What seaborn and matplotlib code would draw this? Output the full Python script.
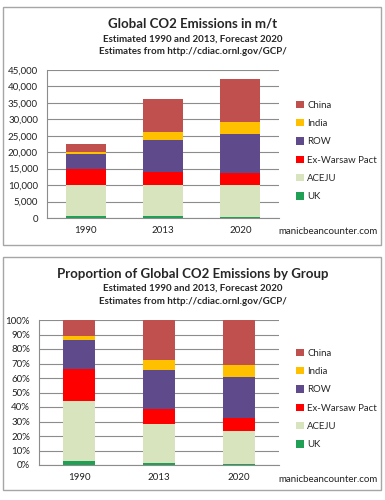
import numpy as np
import pandas as pd
import matplotlib
matplotlib.use("Agg")
import matplotlib.pyplot as plt
from matplotlib.patches import Rectangle
from matplotlib.ticker import FuncFormatter, PercentFormatter
import seaborn as sns

# Data (million tonnes CO2)
years = ["1990", "2013", "2020"]
groups = ["China", "India", "ROW", "Ex-Warsaw Pact", "ACEJU", "UK"]
china = [2500, 10000, 13000]
india = [650, 2500, 3500]
row = [4400, 9800, 12000]
ex_warsaw = [5100, 3700, 3700]
aceju = [9300, 9700, 9500]
uk = [590, 480, 420]

colors = ["#C0504D", "#FFC000", "#5F4A8B", "#FF0000", "#D7E4BD", "#1FA055"]

values = [china, india, row, ex_warsaw, aceju, uk]
df = pd.DataFrame([
    {"pos": i, "group": g, "value": v[i]}
    for g, v in zip(groups, values)
    for i in range(len(years))
])

sns.set_style("white")
plt.rcParams["font.family"] = ["Lato", "DejaVu Sans"]

fig = plt.figure(figsize=(3.85, 5), dpi=100)

# panel borders
for y0, h in [(1 - 245 / 500, 238 / 500), (10 / 500, 233 / 500)]:
    fig.patches.append(Rectangle((3 / 385, y0), 378 / 385, h, transform=fig.transFigure,
                                 fill=False, edgecolor="#A6A6A6", linewidth=1))

ax1 = fig.add_axes([47 / 385, 1 - 218 / 500, 232 / 385, 148 / 500])
ax2 = fig.add_axes([39 / 385, 1 - 465 / 500, 240 / 385, 145 / 500])


def draw(ax, mode, shrink):
    sns.histplot(data=df, x="pos", weights="value", hue="group", hue_order=groups,
                 multiple=mode, discrete=True, shrink=shrink, palette=colors,
                 alpha=1, linewidth=0, ax=ax)
    ax.set_xlim(-0.5, 2.5)
    ax.set_xticks(range(len(years)))
    ax.set_xticklabels(years)
    ax.set_xticks([0.5, 1.5], minor=True)
    ax.tick_params(axis="x", which="major", length=0, labelsize=7, colors="#222222", pad=6)
    ax.tick_params(axis="x", which="minor", length=4, color="#8C8C8C", direction="out")
    ax.tick_params(axis="y", length=3, labelsize=7, labelcolor="#222222", color="#8C8C8C")
    ax.set_xlabel("")
    ax.set_ylabel("")
    ax.grid(axis="y", color="#8C8C8C", linewidth=0.8)
    ax.set_axisbelow(True)
    for s in ["top", "right"]:
        ax.spines[s].set_visible(False)
    for s in ["left", "bottom"]:
        ax.spines[s].set_color("#8C8C8C")
        ax.spines[s].set_linewidth(0.8)


draw(ax1, "stack", 0.52)
ax1.set_ylim(0, 45000)
ax1.set_yticks(np.arange(0, 45001, 5000))
ax1.yaxis.set_major_formatter(FuncFormatter(lambda v, p: f"{int(v):,}"))

draw(ax2, "fill", 0.41)
ax2.set_ylim(0, 1)
ax2.set_yticks(np.arange(0, 1.01, 0.1))
ax2.yaxis.set_major_formatter(PercentFormatter(1.0, decimals=0))

for ax, ytop in [(ax1, 1 - 97 / 500), (ax2, 1 - 345 / 500)]:
    sns.move_legend(ax, "upper left", bbox_to_anchor=(292 / 385, ytop),
                    bbox_transform=fig.transFigure, frameon=False, title=None,
                    fontsize=6.9, handlelength=0.8, handleheight=0.8,
                    handletextpad=0.4, labelspacing=0.97, borderaxespad=0)

sub1 = "Estimated 1990 and 2013, Forecast 2020"
sub2 = "Estimates from http://cdiac.ornl.gov/GCP/"
fig.text(0.5, 1 - 24 / 500, "Global CO2 Emissions in m/t", ha="center", va="center",
         fontsize=9.5, fontweight="bold")
fig.text(0.5, 1 - 39 / 500, sub1, ha="center", va="center", fontsize=7, fontweight="bold")
fig.text(0.5, 1 - 52 / 500, sub2, ha="center", va="center", fontsize=7, fontweight="bold")
fig.text(0.5, 1 - 274 / 500, "Proportion of Global CO2 Emissions by Group", ha="center",
         va="center", fontsize=9.5, fontweight="bold")
fig.text(0.5, 1 - 288 / 500, sub1, ha="center", va="center", fontsize=7, fontweight="bold")
fig.text(0.5, 1 - 302 / 500, sub2, ha="center", va="center", fontsize=7, fontweight="bold")

for yy in [231, 479]:
    fig.text(278 / 385, 1 - yy / 500, "manicbeancounter.com", ha="left", va="center",
             fontsize=7, color="#222222")

fig.savefig("out.png", dpi=100)
